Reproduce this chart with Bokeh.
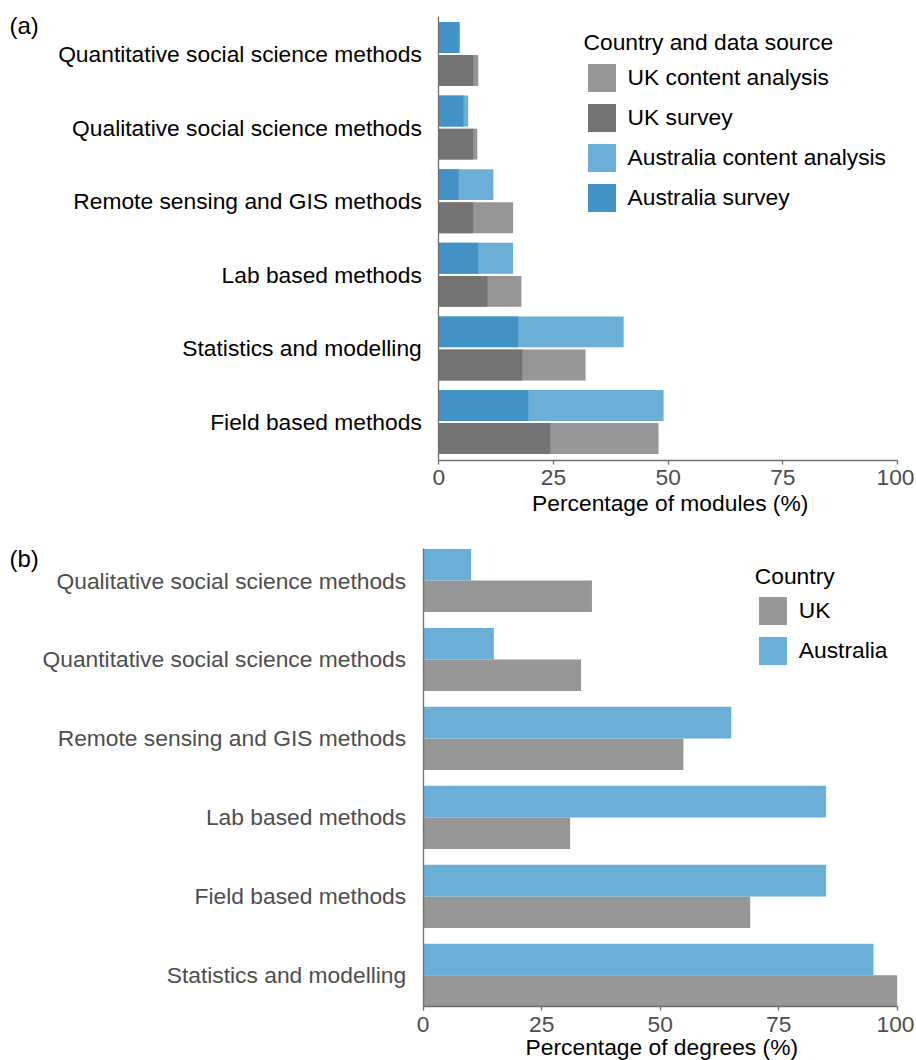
from bokeh.plotting import figure
from bokeh.models import (ColumnDataSource, Range1d, FixedTicker, Legend, LegendItem, Label)
from bokeh.layouts import column
from bokeh.embed import file_html
from bokeh.resources import INLINE

# ---------------- data ----------------
categories_a = ["Quantitative social science methods", "Qualitative social science methods",
                "Remote sensing and GIS methods", "Lab based methods",
                "Statistics and modelling", "Field based methods"]
uk_content_a = [8.6, 8.4, 16.2, 18.0, 32.0, 47.9]
uk_survey_a = [7.5, 7.5, 7.5, 10.6, 18.2, 24.3]
aus_content_a = [4.6, 6.4, 11.9, 16.2, 40.3, 49.0]
aus_survey_a = [4.4, 5.4, 4.3, 8.6, 17.3, 19.5]

categories_b = ["Qualitative social science methods", "Quantitative social science methods",
                "Remote sensing and GIS methods", "Lab based methods",
                "Field based methods", "Statistics and modelling"]
uk_b = [35.6, 33.3, 54.9, 31.0, 69.0, 100.0]
aus_b = [10.1, 14.9, 65.0, 85.0, 85.0, 95.0]

x_ticks = [0, 25, 50, 75, 100]

# ---------------- styles ----------------
FONT = "Liberation Sans"
FS = "22.8px"
C_UK_CONTENT = "#969696"
C_UK_SURVEY = "#737373"
C_AUS_CONTENT = "#6baed6"
C_AUS_SURVEY = "#4292c6"
AXIS_COL = "#6e6e6e"
TICK_TXT = "#4d4d4d"
W = 914
LBL_SHIFT = 8  # screen-unit correction for label baselines


def make_fig(height, px_zero, px_hundred, px_first, px_step):
    """Figure whose frame fills the canvas; ranges mapped so that x=0/100 and the
    first category fall on the given pixel positions."""
    sx = (px_hundred - px_zero) / 100.0
    x_start = -px_zero / sx
    x_end = 100 + (W - px_hundred) / sx
    y_top = -px_first / px_step
    y_bottom = (height - px_first) / px_step
    p = figure(width=W, height=height, output_backend="svg", toolbar_location=None,
               x_range=Range1d(x_start, x_end), y_range=Range1d(y_bottom, y_top),
               min_border=0, min_border_left=0, min_border_right=0,
               min_border_top=0, min_border_bottom=0)
    p.background_fill_color = "white"
    p.border_fill_color = "white"
    p.xgrid.visible = False
    p.ygrid.visible = False
    p.outline_line_color = None
    return p


def style_axes(p, ylabels, ylabel_color, y_lo, y_hi, label_standoff):
    xa, ya = p.xaxis[0], p.yaxis[0]
    xa.ticker = FixedTicker(ticks=x_ticks)
    xa.bounds = (0, 100)
    xa.fixed_location = y_hi
    ya.ticker = FixedTicker(ticks=list(range(len(ylabels))))
    ya.major_label_overrides = {i: lab for i, lab in enumerate(ylabels)}
    ya.bounds = (y_lo, y_hi)
    ya.fixed_location = 0
    for ax in (xa, ya):
        ax.axis_line_color = AXIS_COL
        ax.axis_line_width = 1.3
        ax.major_tick_line_color = AXIS_COL
        ax.major_tick_line_width = 1.3
        ax.minor_tick_line_color = None
        ax.major_label_text_font = FONT
        ax.major_label_text_font_size = FS
    xa.major_tick_in = 0
    xa.major_tick_out = 4
    xa.major_label_standoff = label_standoff
    xa.major_label_text_color = TICK_TXT
    ya.major_tick_in = 0
    ya.major_tick_out = 0
    ya.major_label_standoff = 17
    ya.major_label_text_color = ylabel_color


def style_legend(leg, standoff):
    leg.title_text_font = FONT
    leg.title_text_font_size = FS
    leg.title_text_font_style = "normal"
    leg.title_text_color = "black"
    leg.title_standoff = standoff
    leg.label_text_font = FONT
    leg.label_text_font_size = FS
    leg.label_text_color = "black"
    leg.glyph_width = 35
    leg.glyph_height = 35
    leg.label_standoff = 9
    leg.spacing = 5
    leg.padding = 0
    leg.margin = 0
    leg.border_line_color = None
    leg.background_fill_alpha = 0


def add_text(p, height, x_px, baseline_px, text, size=FS, align="left"):
    p.add_layout(Label(x=x_px, y=height - baseline_px + LBL_SHIFT,
                       x_units="screen", y_units="screen", text=text,
                       text_font=FONT, text_font_size=size, text_color="black",
                       text_baseline="alphabetic", text_align=align))


# ---------------- panel (a) ----------------
HA = 520
n_a = len(categories_a)
src_a = ColumnDataSource(dict(
    y_aus=[i - 0.225 for i in range(n_a)],
    y_uk=[i + 0.225 for i in range(n_a)],
    uk_content=uk_content_a, uk_survey=uk_survey_a,
    aus_content=aus_content_a, aus_survey=aus_survey_a,
))

pa = make_fig(HA, 438.3, 897.0, 53.5, 73.6)

r_ukc = pa.hbar(y="y_uk", left=0, right="uk_content", height=0.42, source=src_a,
                fill_color=C_UK_CONTENT, line_color=None)
r_uks = pa.hbar(y="y_uk", left=0, right="uk_survey", height=0.42, source=src_a,
                fill_color=C_UK_SURVEY, line_color=None)
r_ausc = pa.hbar(y="y_aus", left=0, right="aus_content", height=0.42, source=src_a,
                 fill_color=C_AUS_CONTENT, line_color=None)
r_auss = pa.hbar(y="y_aus", left=0, right="aus_survey", height=0.42, source=src_a,
                 fill_color=C_AUS_SURVEY, line_color=None)

style_axes(pa, categories_a, "black", -0.51, 5.52, 6)

leg_a = Legend(items=[
    LegendItem(label="UK content analysis", renderers=[r_ukc]),
    LegendItem(label="UK survey", renderers=[r_uks]),
    LegendItem(label="Australia content analysis", renderers=[r_ausc]),
    LegendItem(label="Australia survey", renderers=[r_auss]),
], title="Country and data source", location=(583.5, 305.5))
style_legend(leg_a, 4)
pa.add_layout(leg_a)

add_text(pa, HA, 669.7, 510.6, "Percentage of modules (%)", align="center")
add_text(pa, HA, 9, 33, "(a)", size="24px")

# ---------------- panel (b) ----------------
HB = 1060 - HA
n_b = len(categories_b)
src_b = ColumnDataSource(dict(
    y_aus=[i - 0.2 for i in range(n_b)],
    y_uk=[i + 0.2 for i in range(n_b)],
    uk=uk_b, aus=aus_b,
))

pb = make_fig(HB, 422.7, 896.7, 580.0 - HA, 78.97)

r_uk = pb.hbar(y="y_uk", left=0, right="uk", height=0.4, source=src_b,
               fill_color=C_UK_CONTENT, line_color=None)
r_aus = pb.hbar(y="y_aus", left=0, right="aus", height=0.4, source=src_b,
                fill_color=C_AUS_CONTENT, line_color=None)

style_axes(pb, categories_b, TICK_TXT, -0.4, 5.4, 6)

leg_b = Legend(items=[
    LegendItem(label="UK", renderers=[r_uk]),
    LegendItem(label="Australia", renderers=[r_aus]),
], title="Country", location=(754.8, HB - (667.5 - HA)))
style_legend(leg_b, 3)
pb.add_layout(leg_b)

add_text(pb, HB, 661.3, 1054 - HA, "Percentage of degrees (%)", align="center")
add_text(pb, HB, 9, 566 - HA, "(b)", size="24px")

layout = column(pa, pb, spacing=0)
open("out.html", "w").write(file_html(layout, INLINE))
